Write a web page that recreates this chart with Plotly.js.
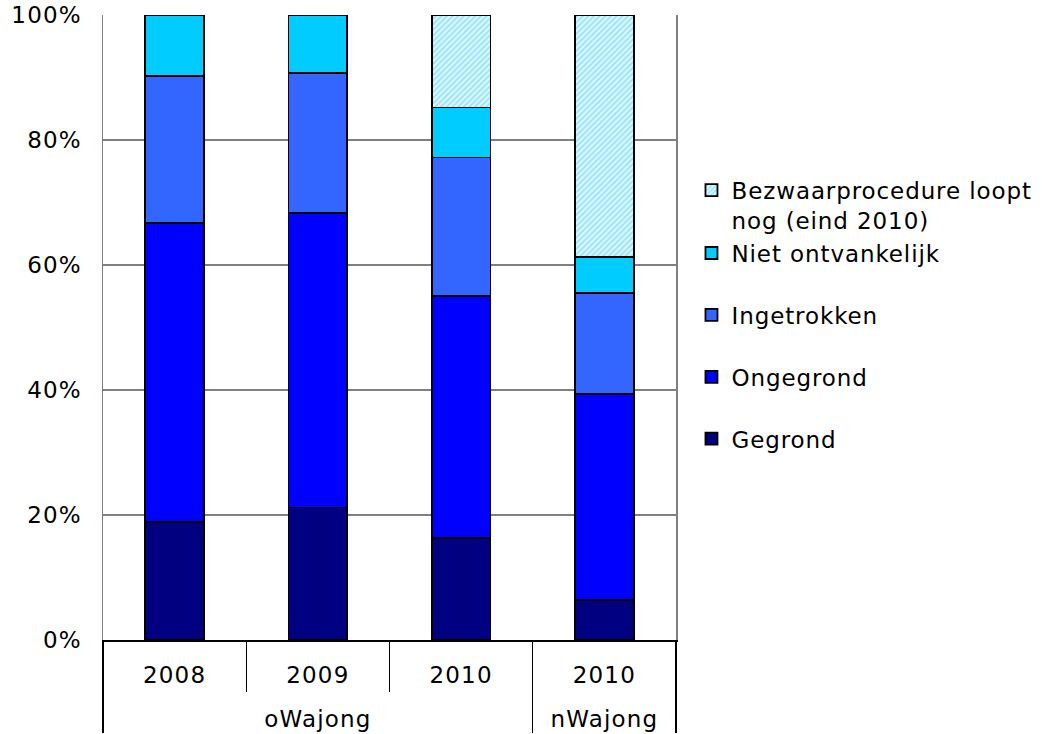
<!DOCTYPE html>
<html>
<head>
<meta charset="utf-8">
<script src="https://cdn.plot.ly/plotly-3.0.1.min.js"></script>
<style>
html, body { margin: 0; padding: 0; background: #fff; }
#chart { width: 1042px; height: 734px; }
.main-svg text { letter-spacing: 1.2px; }
.main-svg .legend text { letter-spacing: 0.9px; }
.legend .scrollbox { clip-path: none !important; }
</style>
</head>
<body>
<div id="chart"></div>
<script>
// Categories (two-level axis)
const groups = ["oWajong", "oWajong", "oWajong", "nWajong"];
const years = ["2008", "2009", "2010", "2010"];

// Series values (% of cases)
const gegrond = [18.9, 21.2, 16.3, 6.4];
const ongegrond = [47.8, 47.1, 38.7, 32.9];
const ingetrokken = [23.6, 22.4, 22.2, 16.2];
const nietOntvankelijk = [9.7, 9.3, 8.0, 5.8];
const bezwaarLoopt = [0, 0, 14.8, 38.7];

// Tick labels for the value axis
const yTickVals = [0, 20, 40, 60, 80, 100];
const yTickText = ["0%", "20%", "40%", "60%", "80%", "100%"];

const seriesNames = ["Gegrond", "Ongegrond", "Ingetrokken", "Niet ontvankelijk", "Bezwaarprocedure loopt<br>nog (eind 2010)"];

const FONT = "DejaVu Sans, Verdana, sans-serif";
const FS = 23;
const groupLabels = groups.map(g => "<br>" + g);
const x = [groupLabels, years];
const outline = { color: "#000000", width: 1.8 };

function bar(name, y, color, group, rank, pattern) {
  const m = { color: color, line: outline };
  if (pattern) m.pattern = pattern;
  return { type: "bar", name: name, x: x, y: y, marker: m, legendgroup: group, legendrank: rank, hoverinfo: "skip" };
}

const data = [
  bar(seriesNames[0], gegrond, "#000080", "a", 5),
  bar(seriesNames[1], ongegrond, "#0000FF", "b", 4),
  bar(seriesNames[2], ingetrokken, "#3366FF", "c", 3),
  bar(seriesNames[3], nietOntvankelijk, "#00CCFF", "d", 2),
  bar(seriesNames[4], bezwaarLoopt, "#CCFFFF", "d", 1,
      { shape: "/", bgcolor: "#CCFFFF", fgcolor: "#A6D6FF", size: 4, solidity: 0.4, fillmode: "replace" })
];

const layout = {
  width: 1042, height: 734,
  margin: { l: 103, r: 366, t: 15, b: 94 },
  paper_bgcolor: "#ffffff", plot_bgcolor: "#ffffff",
  barmode: "stack",
  bargap: 0.59,
  showlegend: true,
  font: { family: FONT, size: FS, color: "#000000" },
  xaxis: {
    type: "multicategory",
    showline: true, linecolor: "#000000", linewidth: 1.5,
    ticks: "outside", ticklen: 50, tickcolor: "#000000", tickwidth: 1.2,
    ticklabelstandoff: 14,
    showdividers: true, dividercolor: "#000000", dividerwidth: 1.2,
    tickfont: { family: FONT, size: FS, color: "#000000" },
    showgrid: false, zeroline: false, fixedrange: true
  },
  yaxis: {
    range: [0, 100],
    tickvals: yTickVals, ticktext: yTickText,
    showgrid: true, gridcolor: "#808080", gridwidth: 1.5,
    showline: true, linecolor: "#808080", linewidth: 1.5, mirror: true,
    ticks: "", ticklabelstandoff: 15,
    tickfont: { family: FONT, size: FS, color: "#000000" },
    zeroline: false, fixedrange: true
  },
  legend: {
    x: 1.027, xanchor: "left",
    y: 0.754, yanchor: "top",
    traceorder: "grouped",
    tracegroupgap: 29,
    valign: "top",
    font: { family: FONT, size: FS, color: "#000000" },
    bgcolor: "rgba(0,0,0,0)"
  }
};

Plotly.newPlot("chart", data, layout, { displayModeBar: false, staticPlot: true });
</script>
</body>
</html>
